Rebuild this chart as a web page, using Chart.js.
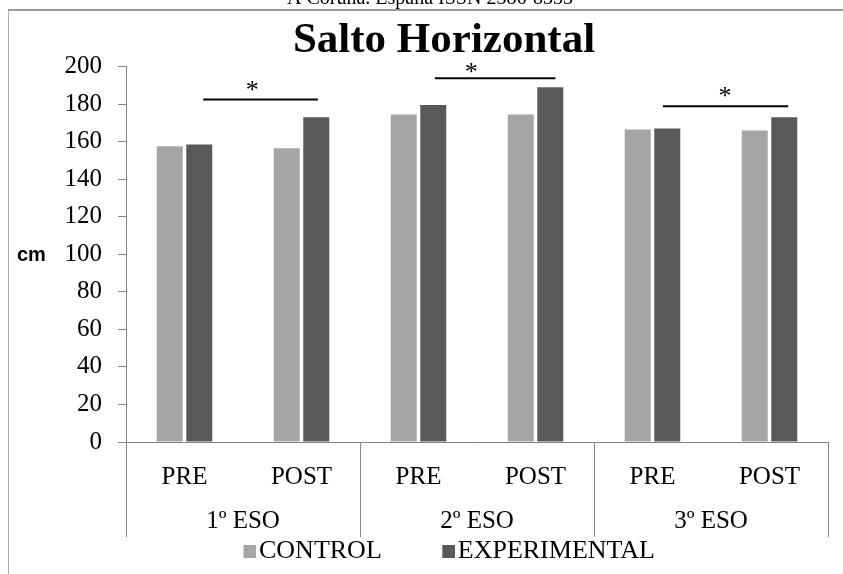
<!DOCTYPE html>
<html><head><meta charset="utf-8">
<script src="https://cdn.jsdelivr.net/npm/chart.js@4"></script>
<style>html,body{margin:0;padding:0;background:#fff}#wrap{width:843px;height:574px;position:relative}</style>
</head><body><div id="wrap"><canvas id="c" width="843" height="574"></canvas></div>
<script>
// ---- data ----
const categories = ['PRE', 'POST', 'PRE', 'POST', 'PRE', 'POST'];
const groups = ['1º ESO', '2º ESO', '3º ESO'];
const seriesNames = ['CONTROL', 'EXPERIMENTAL'];
const controlValues = [157.5, 156.5, 174.5, 174.5, 166.5, 166];
const experimentalValues = [158.5, 173, 179.5, 189, 167, 173];
const yMin = 0, yMax = 200, yStep = 20;
// significance brackets (category index positions, value heights)
const sigStart = [0.16, 2.14, 4.09];
const sigEnd = [1.14, 3.17, 5.16];
const sigLineY = [182.5, 193.8, 178.9];
const sigStarX = [0.58, 2.45, 4.62];
const sigStarY = [189.4, 199, 186.4];
const sigMark = '*';
const titleText = 'Salto Horizontal';
const yAxisTitle = 'cm';
const headerText = 'A Coruña. España ISSN 2386-8333';

// ---- styles ----
const SERIF = '"Liberation Serif", "Times New Roman", serif';
const AXIS_GRAY = '#868686';
const COLORS = ['#a5a5a5', '#595959'];
const PAD_L = 60;

function legendSwatch(color) {
  const c = document.createElement('canvas');
  c.width = 34; c.height = 13;
  const g = c.getContext('2d');
  g.fillStyle = color;
  g.fillRect(21, 0, 13, 13);
  return c;
}

const deco = {
  id: 'deco',
  beforeDraw(chart) {
    const ctx = chart.ctx;
    ctx.save();
    ctx.fillStyle = '#fff';
    ctx.fillRect(0, 0, chart.width, chart.height);
    ctx.fillStyle = '#000';
    ctx.font = '20px ' + SERIF;
    ctx.textAlign = 'center';
    ctx.textBaseline = 'alphabetic';
    ctx.fillText(headerText, 430, 4);
    ctx.strokeStyle = '#9a9a9a';
    ctx.lineWidth = 2;
    ctx.beginPath(); ctx.moveTo(8, 10); ctx.lineTo(chart.width, 10); ctx.stroke();
    ctx.lineWidth = 1;
    ctx.strokeStyle = '#b0b0b0';
    ctx.beginPath(); ctx.moveTo(8.5, 10); ctx.lineTo(8.5, chart.height); ctx.stroke();
    ctx.restore();
  },
  afterDraw(chart) {
    const ctx = chart.ctx;
    const x = chart.scales.x, y = chart.scales.y;
    ctx.save();
    // group separators
    ctx.strokeStyle = AXIS_GRAY;
    ctx.lineWidth = 1;
    const top = chart.chartArea.bottom;
    const bottom = top + 95;
    [-0.5, 1.5, 3.5, 5.5].forEach(v => {
      const px = Math.round(x.getPixelForValue(v)) + 0.5;
      ctx.beginPath(); ctx.moveTo(px, top); ctx.lineTo(px, bottom); ctx.stroke();
    });
    // significance lines
    ctx.strokeStyle = '#000';
    ctx.lineWidth = 2;
    sigStart.forEach((s, i) => {
      const py = y.getPixelForValue(sigLineY[i]);
      ctx.beginPath();
      ctx.moveTo(x.getPixelForValue(s), py);
      ctx.lineTo(x.getPixelForValue(sigEnd[i]), py);
      ctx.stroke();
    });
    ctx.fillStyle = '#000';
    ctx.font = '26px ' + SERIF;
    ctx.textAlign = 'center';
    ctx.textBaseline = 'middle';
    sigStarX.forEach((s, i) => {
      ctx.fillText(sigMark, x.getPixelForValue(s), y.getPixelForValue(sigStarY[i]) + 5);
    });
    // y axis title (horizontal)
    ctx.font = 'bold 20px "Liberation Sans", Arial, sans-serif';
    ctx.textAlign = 'left';
    ctx.fillText(yAxisTitle, 17, y.getPixelForValue(100) + 1);
    ctx.restore();
  }
};

new Chart(document.getElementById('c'), {
  type: 'bar',
  data: {
    labels: categories,
    datasets: [
      { label: seriesNames[0], data: controlValues, backgroundColor: COLORS[0], xAxisID: 'x', categoryPercentage: 0.505, barPercentage: 0.88 },
      { label: seriesNames[1], data: experimentalValues, backgroundColor: COLORS[1], xAxisID: 'x', categoryPercentage: 0.505, barPercentage: 0.88 }
    ]
  },
  options: {
    responsive: false,
    animation: false,
    devicePixelRatio: 1,
    layout: { padding: { left: PAD_L, right: 15, top: 15, bottom: 0 } },
    plugins: {
      title: {
        display: true, text: titleText, color: '#000',
        font: { family: SERIF, size: 43, weight: 'bold' },
        padding: { top: 0, bottom: 0 }
      },
      legend: {
        display: true, position: 'bottom',
        labels: {
          color: '#000', font: { family: SERIF, size: 26 },
          usePointStyle: true, pointStyleWidth: 13, boxHeight: 13, padding: 50,
          generateLabels(chart) {
            const items = Chart.defaults.plugins.legend.labels.generateLabels(chart);
            items.forEach(it => { it.pointStyle = legendSwatch(COLORS[it.datasetIndex]); });
            return items;
          }
        }
      },
      tooltip: { enabled: false }
    },
    scales: {
      y: {
        min: yMin, max: yMax,
        ticks: { stepSize: yStep, color: '#000', font: { family: SERIF, size: 25 }, padding: 16 },
        grid: { display: true, drawOnChartArea: false, drawTicks: true, tickLength: 8, color: AXIS_GRAY },
        border: { display: true, color: AXIS_GRAY, width: 1 },
        afterFit(s) { s.width = 126 - PAD_L; }
      },
      x: {
        type: 'category', position: 'bottom',
        ticks: { color: '#000', font: { family: SERIF, size: 25 }, padding: 20, maxRotation: 0, autoSkip: false },
        grid: { display: false, drawTicks: false },
        border: { display: true, color: AXIS_GRAY, width: 1 },
        afterFit(s) { s.height = 46; }
      },
      x2: {
        type: 'category', axis: 'x', position: { y: 0 }, labels: groups, offset: true,
        ticks: { color: '#000', font: { family: SERIF, size: 25 }, padding: 64, maxRotation: 0, autoSkip: false },
        grid: { display: false, drawTicks: false },
        border: { display: false }
      }
    }
  },
  plugins: [deco]
});
</script></body></html>
